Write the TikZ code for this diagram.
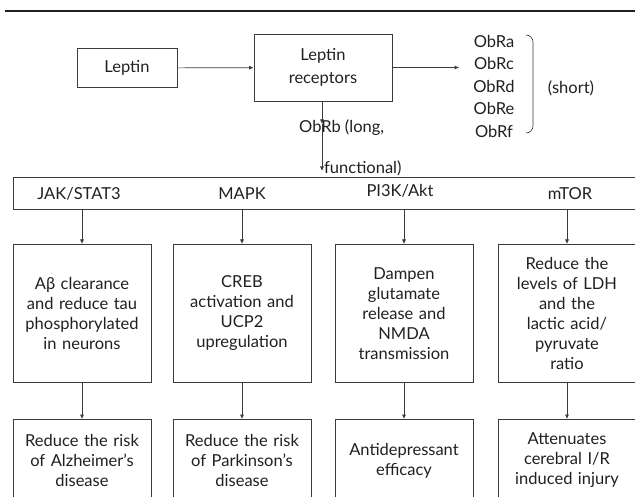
\documentclass[tikz,border=0pt]{standalone}
\usepackage{fontspec}
\setmainfont{Lato}
\usetikzlibrary{arrows.meta}
\definecolor{ink}{HTML}{231F20}
\definecolor{edge}{HTML}{3A3A3A}
\begin{document}
\begin{tikzpicture}[x=1pt,y=-1pt,
  every node/.style={text=ink, font=\fontsize{16.5}{20}\selectfont},
  box/.style={draw=edge, line width=0.8pt, align=center, inner sep=2pt},
  col/.style={box, minimum width=138, text width=132, anchor=north},
  arr/.style={draw=edge, line width=0.7pt, -{Latex[length=4.5pt,width=4pt]}},
  lbl/.style={align=center, inner sep=1pt}]
\useasboundingbox (0,0) rectangle (635,497);
\clip (0,0) rectangle (635,497);
% top rule
\draw[line width=2pt, ink] (5,11) -- (640,11);
% top row
\node[box, minimum width=100, minimum height=39] (leptin) at (127,68) {Leptin};
\node[box, minimum width=138, minimum height=67, font=\fontsize{16.5}{23}\selectfont] (rec) at (323,67.5) {Leptin\\receptors};
\node[lbl, inner xsep=14pt, font=\fontsize{16.5}{22.5}\selectfont] (obr) at (494,86) {ObRa\\ObRc\\ObRd\\ObRe\\ObRf};
\node[lbl] (short) at (571,88) {(short)};
\draw[edge, line width=0.6pt] (526,35) to[out=0,in=90] (533,42) -- (533,126) to[out=-90,in=0] (526,133);
\draw[arr] (leptin) -- (rec);
\draw[arr] (rec.east) -- (rec.east -| obr.west);
% ObRb
\node[lbl, anchor=west] (obrb) at (298,128) {ObRb (long,};
\node[lbl, anchor=west] (func) at (323,168) {functional)};
\coordinate (tip1) at (322,124);
\coordinate (tip2) at (322,171);
\draw[arr] (rec.south -| tip1) -- (tip1);
\draw[arr] (tip1) -- (tip2);
% pathway bar
\node[box, minimum width=660, minimum height=32, anchor=north west] (bar) at (13,177) {};
\node[lbl] (p1) at (79,194) {JAK/STAT3};
\node[lbl] (p2) at (242,194) {MAPK};
\node[lbl] (p3) at (400,191) {PI3K/Akt};
\node[lbl] (p4) at (570,194) {mTOR};
% middle boxes
\node[col, minimum height=138] (m1) at (82,244) {Aβ clearance\\and reduce tau\\phosphorylated\\in neurons};
\node[col, minimum height=138] (m2) at (242,244) {CREB\\activation and\\UCP2\\upregulation};
\node[col, minimum height=138] (m3) at (404,244) {Dampen\\glutamate\\release and\\NMDA\\transmission};
\node[col, minimum height=138] (m4) at (567,244) {Reduce the\\levels of LDH\\and the\\lactic acid/\\pyruvate\\ratio};
% bottom boxes
\node[col, minimum height=82] (b1) at (82,419) {Reduce the risk\\of Alzheimer’s\\disease};
\node[col, minimum height=82] (b2) at (242,419) {Reduce the risk\\of Parkinson’s\\disease};
\node[col, minimum height=82] (b3) at (404,419) {Antidepressant\\efficacy};
\node[col, minimum height=82] (b4) at (567,419) {Attenuates\\cerebral I/R\\induced injury};
% arrows
\foreach \i in {1,2,3,4}{
  \draw[arr] (m\i.north |- bar.south) -- (m\i.north);
  \draw[arr] (m\i.south) -- (b\i.north);
}
\end{tikzpicture}
\end{document}
